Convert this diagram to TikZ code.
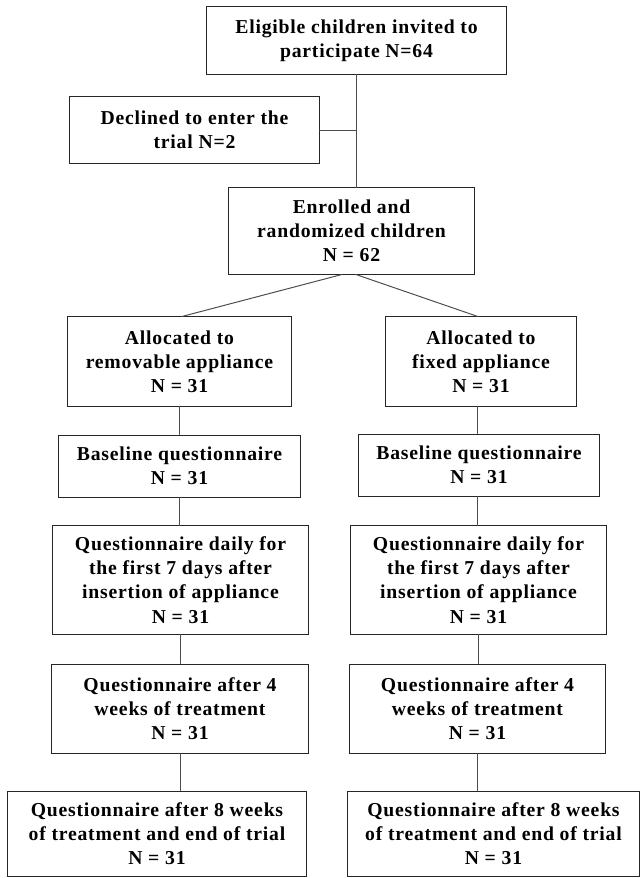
\documentclass[tikz,border=0pt]{standalone}
\usepackage{fontspec}
\setmainfont{Liberation Serif}[LetterSpace=4]
\usepackage{tikz}

\begin{document}
\begin{tikzpicture}[x=0.025cm,y=-0.025cm,line cap=round,
  font=\fontsize{14}{17.2}\selectfont\bfseries,
  box/.style={draw=black!85,line width=0.7pt,align=center,inner sep=0pt},
  link/.style={draw=black!70,line width=0.7pt}]
\useasboundingbox (0,0) rectangle (640,878);
% top part
\node[box,minimum width=7.475cm,minimum height=1.675cm] (elig) at (356.5,40.5) {Eligible children invited to\\participate N=64};
\node[box,minimum width=6.225cm,minimum height=1.65cm] (decl) at (194.5,130) {Declined to enter the\\trial N=2};
\node[box,minimum width=6.125cm,minimum height=2.15cm] (enrol) at (351.5,231) {Enrolled and\\randomized children\\N = 62};
% removable arm
\node[box,minimum width=5.575cm,minimum height=2.225cm] (remA) at (179.5,361.5) {Allocated to\\removable appliance\\N = 31};
\node[box,minimum width=6.025cm,minimum height=1.55cm] (remB) at (179.5,466) {Baseline questionnaire\\N = 31};
\node[box,minimum width=6.375cm,minimum height=2.7cm] (remC) at (180.5,580) {Questionnaire daily for\\the first 7 days after\\insertion of appliance\\N = 31};
\node[box,minimum width=6.4cm,minimum height=2.225cm] (remD) at (180,708.5) {Questionnaire after 4\\weeks of treatment\\N = 31};
\node[box,minimum width=7.45cm,minimum height=2.125cm] (remE) at (157,833.5) {Questionnaire after 8 weeks\\of treatment and end of trial\\N = 31};
% fixed arm
\node[box,minimum width=4.75cm,minimum height=2.225cm] (fixA) at (481,361.5) {Allocated to\\fixed appliance\\N = 31};
\node[box,minimum width=6.0cm,minimum height=1.55cm] (fixB) at (479,465) {Baseline questionnaire\\N = 31};
\node[box,minimum width=6.375cm,minimum height=2.7cm] (fixC) at (478.5,580) {Questionnaire daily for\\the first 7 days after\\insertion of appliance\\N = 31};
\node[box,minimum width=6.375cm,minimum height=2.225cm] (fixD) at (477.5,708.5) {Questionnaire after 4\\weeks of treatment\\N = 31};
\node[box,minimum width=7.275cm,minimum height=2.125cm] (fixE) at (493.5,833.5) {Questionnaire after 8 weeks\\of treatment and end of trial\\N = 31};
% connectors
\draw[link] (elig.south) -- (elig.south |- enrol.north);
\draw[link] (decl.east) -- (decl.east -| elig.south);
\draw[link] ([xshift=-0.24cm]enrol.south) -- ([xshift=0.06cm]remA.north);
\draw[link] ([xshift=0.11cm]enrol.south) -- ([xshift=-0.08cm]fixA.north);
\draw[link] (remA.south) -- (remA.south |- remB.north);
\draw[link] (remB.south) -- (remB.south |- remC.north);
\draw[link] (remC.south) -- (remC.south |- remD.north);
\draw[link] (remD.south) -- (remD.south |- remE.north);
\draw[link] ([xshift=-0.08cm]fixA.south) -- ([xshift=-0.08cm]fixA.south |- fixB.north);
\draw[link] ([xshift=-0.03cm]fixB.south) -- ([xshift=-0.03cm]fixB.south |- fixC.north);
\draw[link] (fixC.south) -- (fixC.south |- fixD.north);
\draw[link] (fixD.south) -- (fixD.south |- fixE.north);
\end{tikzpicture}
\end{document}
